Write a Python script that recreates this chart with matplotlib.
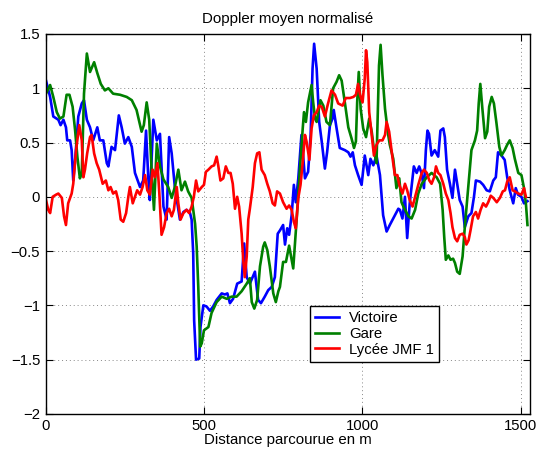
import matplotlib
matplotlib.use('Agg')
import matplotlib.pyplot as plt
from matplotlib.ticker import FuncFormatter

plt.rcParams['font.family'] = ['Liberation Sans', 'DejaVu Sans']

# distance (m) / normalised doppler
victoire_x = [1, 14, 24, 40, 47, 56, 64, 68, 77, 82, 87, 93, 103, 114, 121, 130, 140, 150, 163, 171,
              182, 193, 198, 208, 219, 231, 240, 250, 261, 272, 282, 298, 308, 317, 324, 329, 340, 351,
              361, 372, 382, 390, 398, 408, 424, 435, 445, 456, 461, 466, 469, 475, 485, 489, 498, 508,
              519, 529, 540, 556, 566, 574, 582, 592, 605, 619, 627, 635, 645, 661, 671, 680, 692, 703,
              714, 724, 733, 740, 750, 756, 763, 769, 777, 784, 790, 798, 808, 819, 829, 837, 843, 848,
              856, 864, 872, 882, 889, 898, 906, 910, 919, 929, 945, 956, 963, 970, 977, 987, 998, 1008,
              1019, 1026, 1035, 1045, 1056, 1066, 1077, 1087, 1103, 1114, 1119, 1127, 1135, 1142, 1150,
              1159, 1163, 1172, 1180, 1187, 1195, 1201, 1206, 1211, 1219, 1229, 1240, 1247, 1256, 1261,
              1268, 1277, 1285, 1293, 1300, 1308, 1317, 1324, 1335, 1345, 1353, 1359, 1372, 1382, 1393,
              1403, 1414, 1422, 1429, 1440, 1450, 1458, 1466, 1477, 1485, 1492, 1503, 1511, 1522]
victoire_y = [1.07, 0.92, 0.74, 0.71, 0.66, 0.71, 0.64, 0.52, 0.52, 0.43, 0.15, 0.34, 0.74, 0.86, 0.89,
              0.71, 0.64, 0.52, 0.64, 0.52, 0.52, 0.31, 0.28, 0.46, 0.43, 0.75, 0.64, 0.49, 0.55, 0.46,
              0.22, 0.09, 0.15, 0.61, 0.18, -0.03, 0.71, 0.52, 0.58, -0.09, -0.21, 0.55, 0.40, 0.09,
              -0.21, -0.14, -0.12, -0.15, -0.21, -0.52, -1.14, -1.50, -1.49, -1.20, -1.00, -1.01, -1.05,
              -1.01, -0.95, -0.89, -0.90, -0.89, -0.98, -0.94, -0.80, -0.78, -0.43, -0.74, -0.80, -0.69,
              -0.95, -0.98, -0.92, -0.86, -0.83, -0.74, -0.34, -0.31, -0.26, -0.44, -0.29, -0.35, -0.17,
              0.11, -0.05, 0.17, 0.57, 0.17, 0.23, 0.57, 1.18, 1.41, 1.18, 0.69, 0.51, 0.26, 0.41, 0.66,
              0.72, 0.80, 0.63, 0.45, 0.43, 0.41, 0.37, 0.41, 0.29, 0.20, 0.11, 0.38, 0.20, 0.35, 0.29,
              0.38, 0.20, -0.17, -0.32, -0.26, -0.17, -0.11, -0.12, -0.20, 0.00, -0.38, -0.06, 0.18,
              0.28, 0.22, 0.28, 0.22, 0.08, 0.43, 0.61, 0.58, 0.38, 0.43, 0.37, 0.61, 0.63, 0.55, 0.25,
              0.12, -0.01, 0.25, 0.12, -0.03, -0.09, -0.28, -0.18, -0.15, 0.00, 0.15, 0.14, 0.11, 0.06,
              0.05, 0.15, 0.18, 0.41, 0.38, 0.34, 0.18, 0.06, -0.06, 0.08, 0.02, 0.00, -0.06, -0.04]

gare_x = [1, 14, 24, 35, 45, 56, 66, 75, 85, 93, 100, 108, 114, 121, 130, 140, 153, 163, 174, 187,
          198, 213, 235, 256, 272, 287, 303, 310, 319, 327, 335, 342, 351, 361, 372, 387, 398, 408,
          419, 429, 440, 450, 461, 472, 477, 482, 488, 493, 500, 514, 524, 540, 556, 572, 587, 603,
          619, 635, 645, 651, 659, 668, 677, 687, 692, 700, 708, 719, 727, 735, 740, 750, 759, 769,
          782, 793, 803, 812, 816, 822, 829, 840, 845, 851, 856, 868, 877, 887, 898, 908, 919, 927,
          935, 945, 956, 966, 974, 980, 984, 989, 995, 1003, 1012, 1022, 1030, 1038, 1045, 1053, 1058,
          1064, 1072, 1082, 1087, 1098, 1108, 1117, 1124, 1130, 1146, 1156, 1167, 1177, 1188, 1204,
          1219, 1235, 1246, 1254, 1259, 1264, 1272, 1279, 1287, 1293, 1300, 1308, 1317, 1324, 1335,
          1345, 1356, 1363, 1368, 1373, 1379, 1388, 1395, 1401, 1409, 1416, 1424, 1433, 1440, 1450,
          1458, 1466, 1475, 1482, 1493, 1503, 1511, 1517, 1522]
gare_y = [0.95, 1.03, 0.92, 0.78, 0.72, 0.74, 0.94, 0.94, 0.83, 0.61, 0.37, 0.17, 0.22, 0.95, 1.32,
          1.15, 1.24, 1.14, 1.04, 0.98, 1.00, 0.95, 0.94, 0.92, 0.89, 0.80, 0.60, 0.66, 0.87, 0.71,
          0.22, -0.12, 0.49, 0.28, 0.16, 0.09, -0.01, 0.09, 0.25, 0.06, 0.14, 0.05, -0.01, -0.25,
          -0.46, -0.83, -1.38, -1.35, -1.23, -1.20, -1.07, -0.97, -0.92, -0.94, -0.92, -0.92, -0.87,
          -0.80, -0.75, -0.97, -1.03, -0.95, -0.64, -0.46, -0.42, -0.49, -0.64, -0.89, -0.97, -0.87,
          -0.83, -0.60, -0.60, -0.45, -0.66, -0.20, 0.25, 0.63, 0.78, 0.69, 0.87, 1.03, 0.87, 0.72,
          0.69, 0.89, 0.84, 0.69, 0.66, 1.00, 1.06, 1.12, 1.07, 0.87, 0.64, 0.54, 0.45, 0.51, 0.87,
          1.15, 0.81, 0.63, 0.55, 0.72, 0.60, 0.41, 0.31, 1.21, 1.40, 1.12, 0.81, 0.57, 0.48, 0.35,
          0.08, 0.17, -0.05, -0.09, -0.18, -0.20, -0.12, 0.03, 0.12, 0.18, 0.22, 0.18, 0.12, -0.12,
          -0.37, -0.58, -0.54, -0.58, -0.57, -0.61, -0.69, -0.71, -0.55, -0.28, 0.09, 0.43, 0.52,
          0.61, 0.86, 1.04, 0.83, 0.54, 0.60, 0.83, 0.92, 0.86, 0.68, 0.46, 0.38, 0.43, 0.48, 0.52,
          0.45, 0.35, 0.22, 0.20, 0.08, -0.06, -0.26]

lycee_x = [1, 8, 14, 22, 33, 40, 51, 58, 64, 71, 82, 87, 96, 106, 114, 119, 124, 131, 140, 145, 153,
           161, 169, 180, 190, 198, 205, 213, 222, 229, 237, 245, 254, 261, 266, 275, 282, 289, 298,
           306, 314, 321, 329, 338, 345, 353, 359, 366, 374, 382, 390, 398, 405, 414, 419, 426, 435,
           445, 453, 461, 468, 475, 482, 493, 500, 506, 514, 524, 532, 540, 545, 552, 561, 569, 577,
           584, 591, 598, 605, 611, 619, 624, 629, 635, 640, 645, 654, 661, 668, 675, 682, 692, 700,
           708, 717, 724, 731, 740, 750, 761, 769, 777, 784, 790, 798, 805, 812, 819, 824, 833, 840,
           847, 856, 864, 872, 882, 892, 903, 914, 924, 938, 948, 961, 972, 980, 987, 993, 1001, 1008,
           1012, 1016, 1022, 1030, 1037, 1045, 1054, 1064, 1072, 1077, 1085, 1096, 1103, 1111, 1117,
           1127, 1135, 1142, 1150, 1159, 1167, 1177, 1188, 1195, 1204, 1212, 1219, 1227, 1233, 1240,
           1247, 1256, 1264, 1272, 1279, 1285, 1293, 1300, 1308, 1317, 1324, 1329, 1336, 1342, 1350,
           1359, 1366, 1374, 1382, 1391, 1398, 1406, 1414, 1425, 1435, 1444, 1451, 1458, 1466, 1475,
           1482, 1493, 1503, 1511, 1517]
lycee_y = [-0.03, -0.12, -0.15, 0.00, 0.02, 0.03, -0.01, -0.18, -0.26, -0.06, 0.03, 0.12, 0.43, 0.66,
           0.52, 0.18, 0.25, 0.40, 0.55, 0.57, 0.40, 0.31, 0.25, 0.12, 0.15, 0.06, 0.09, 0.03, 0.05,
           -0.03, -0.21, -0.23, -0.15, 0.00, 0.09, -0.06, 0.00, 0.06, 0.02, 0.09, 0.20, 0.06, 0.02,
           0.25, 0.18, 0.31, 0.03, -0.35, -0.28, -0.15, -0.11, -0.18, -0.12, 0.09, -0.06, -0.21,
           -0.15, -0.12, -0.15, -0.09, 0.00, 0.15, 0.05, 0.09, 0.11, 0.23, 0.25, 0.28, 0.29, 0.37,
           0.29, 0.15, 0.17, 0.28, 0.22, 0.22, 0.12, -0.11, 0.00, -0.09, -0.34, -0.58, -0.74, -0.55,
           -0.21, -0.11, 0.09, 0.31, 0.40, 0.41, 0.25, 0.20, 0.12, 0.05, -0.06, -0.08, 0.05, 0.03,
           -0.05, -0.11, -0.08, -0.12, -0.23, -0.29, -0.01, 0.11, 0.32, 0.57, 0.51, 0.34, 0.63, 0.75,
           0.78, 0.84, 0.83, 0.74, 0.86, 0.98, 0.94, 0.86, 0.84, 0.91, 0.91, 0.92, 0.94, 1.04, 0.94,
           0.87, 1.09, 1.35, 1.24, 0.78, 0.57, 0.38, 0.48, 0.52, 0.52, 0.57, 0.69, 0.60, 0.35, 0.20,
           0.20, 0.11, 0.03, 0.12, 0.06, -0.03, -0.09, 0.00, 0.11, 0.22, 0.25, 0.22, 0.15, 0.12, 0.18,
           0.28, 0.22, 0.20, 0.12, 0.03, -0.03, -0.15, -0.28, -0.38, -0.41, -0.35, -0.34, -0.37, -0.44,
           -0.40, -0.31, -0.18, -0.14, -0.20, -0.12, -0.06, -0.09, -0.05, 0.01, -0.01, -0.05, -0.01,
           0.05, 0.06, 0.14, 0.18, 0.06, 0.05, 0.03, 0.02, 0.08, 0.00]

series = [
    ('Victoire', victoire_x, victoire_y, '#0000ff'),
    ('Gare', gare_x, gare_y, '#008000'),
    ('Lycée JMF 1', lycee_x, lycee_y, '#ff0000'),
]


def matlab_fmt(v, pos):
    # MATLAB style: 1.5, 1, 0.5, 0, −0.5 ...
    return ('%g' % v).replace('-', '\u2212')


fig = plt.figure(figsize=(5.46, 4.58), dpi=100)
ax = fig.add_axes([0.0837, 0.0963, 0.887, 0.8295])

for name, xs, ys, color in series:
    ax.plot(xs, ys, color=color, lw=1.9, label=name)

ax.set_xlim(0, 1530)
ax.set_ylim(-2, 1.5)
ax.set_xticks([0, 500, 1000, 1500])
ax.set_yticks([-2, -1.5, -1, -0.5, 0, 0.5, 1, 1.5])
ax.xaxis.set_major_formatter(FuncFormatter(matlab_fmt))
ax.yaxis.set_major_formatter(FuncFormatter(matlab_fmt))
ax.tick_params(direction='in', top=True, right=True, length=5, width=0.8,
               labelsize=10.7, pad=4, colors='black')
ax.grid(True, linestyle=(0, (1, 3)), color='#888888', lw=0.7)
for sp in ax.spines.values():
    sp.set_linewidth(1.0)

ax.set_title('Doppler moyen normalisé', fontsize=10.8, pad=8)
ax.set_xlabel('Distance parcourue en m', fontsize=10.8, labelpad=0)

leg = ax.legend(loc='lower left', bbox_to_anchor=(0.546, 0.137), borderaxespad=0,
                fancybox=False, edgecolor='black', framealpha=1, fontsize=10.7,
                handlelength=1.6, handletextpad=0.65, borderpad=0.35, labelspacing=0.12)
leg.get_frame().set_linewidth(1.0)

fig.savefig('out.png', dpi=100)
